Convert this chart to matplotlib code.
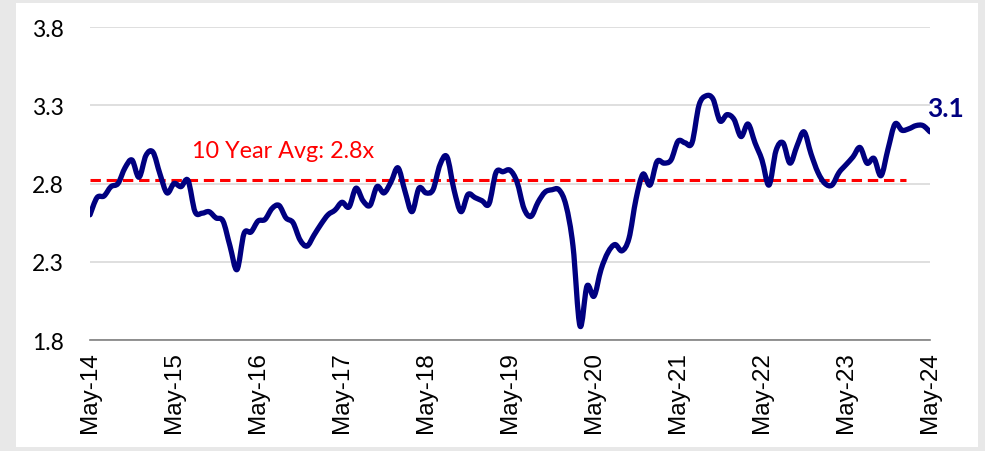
import matplotlib
matplotlib.use('Agg')
import matplotlib.pyplot as plt
from matplotlib.patches import Rectangle, PathPatch
from matplotlib.path import Path

# monthly multiple, May-14 .. May-24
values = [
    2.60, 2.71, 2.72, 2.78, 2.80, 2.90, 2.95, 2.84, 2.98, 3.00, 2.86, 2.74,
    2.80, 2.78, 2.82, 2.62, 2.61, 2.62, 2.58, 2.56, 2.40, 2.25, 2.48, 2.49,
    2.56, 2.57, 2.64, 2.66, 2.58, 2.55, 2.44, 2.40, 2.47, 2.54, 2.60, 2.63,
    2.68, 2.65, 2.77, 2.69, 2.66, 2.78, 2.74, 2.81, 2.90, 2.75, 2.62, 2.77,
    2.74, 2.76, 2.92, 2.97, 2.76, 2.62, 2.73, 2.71, 2.69, 2.67, 2.87, 2.875,
    2.885, 2.81, 2.64, 2.59, 2.68, 2.745, 2.76, 2.76, 2.66, 2.40, 1.89, 2.145,
    2.08, 2.25, 2.36, 2.41, 2.37, 2.45, 2.70, 2.86, 2.79, 2.94, 2.93, 2.95,
    3.07, 3.06, 3.06, 3.30, 3.36, 3.34, 3.20, 3.24, 3.21, 3.10, 3.18, 3.06,
    2.95, 2.79, 3.01, 3.06, 2.93, 3.04, 3.13, 2.99, 2.87, 2.80, 2.79, 2.87,
    2.92, 2.97, 3.03, 2.93, 2.96, 2.85, 3.02, 3.18, 3.14, 3.15, 3.17, 3.17,
    3.13,
]
tick_labels = ["May-14", "May-15", "May-16", "May-17", "May-18", "May-19",
               "May-20", "May-21", "May-22", "May-23", "May-24"]
y_ticks = [1.8, 2.3, 2.8, 3.3, 3.8]
avg_value = 2.82
avg_label = "10 Year Avg: 2.8x"
last_label = "3.1"

navy = "#000080"
red = "#ff0000"


def smooth_path(xs, ys, t=1 / 6):
    """Bezier path through the points, like Excel's smoothed line."""
    verts = [(xs[0], ys[0])]
    codes = [Path.MOVETO]
    n = len(xs)
    for i in range(n - 1):
        x0, y0 = xs[max(i - 1, 0)], ys[max(i - 1, 0)]
        x1, y1 = xs[i], ys[i]
        x2, y2 = xs[i + 1], ys[i + 1]
        x3, y3 = xs[min(i + 2, n - 1)], ys[min(i + 2, n - 1)]
        verts += [(x1 + (x2 - x0) * t, y1 + (y2 - y0) * t),
                  (x2 - (x3 - x1) * t, y2 - (y3 - y1) * t),
                  (x2, y2)]
        codes += [Path.CURVE4] * 3
    return Path(verts, codes)


fig = plt.figure(figsize=(9.85, 4.52), dpi=100, facecolor="#e8e8e8")
# white chart card with a grey shadow round it
card = Rectangle((16 / 985, 4 / 452), 962 / 985, 444 / 452,
                 transform=fig.transFigure, facecolor="white",
                 edgecolor="none", zorder=-10)
fig.patches.append(card)

ax = fig.add_axes([90 / 985, 111 / 452, 840 / 985, 313 / 452])
ax.set_facecolor("none")

x = list(range(len(values)))
line = PathPatch(smooth_path(x, values), facecolor="none", edgecolor=navy,
                 lw=3.8, joinstyle="round", capstyle="round", zorder=3)
ax.add_patch(line)
ax.plot([0, 116.5], [avg_value, avg_value], color=red, lw=2.2,
        dashes=(3.4, 1.9), zorder=2)

ax.text(14.5, 3.01, avg_label, color=red, fontsize=16.8, family="Lato",
        ha="left", va="center")
ax.text(122.2, 3.28, last_label, color=navy, fontsize=19, family="Lato",
        fontweight="bold", ha="center", va="center", clip_on=False)

ax.set_xlim(0, 120)
ax.set_ylim(1.8, 3.8)
ax.set_yticks(y_ticks)
ax.set_yticklabels([f"{v:.1f}" for v in y_ticks], family="Lato", fontsize=16.5)
ax.set_xticks(list(range(0, 121, 12)))
ax.set_xticklabels(tick_labels, rotation=90, family="Liberation Sans",
                   fontsize=17.5)
ax.tick_params(axis="both", length=0)
ax.tick_params(axis="y", pad=19)
ax.tick_params(axis="x", pad=8)

ax.grid(axis="y", color="#d9d9d9", lw=1.2, zorder=1)
for s in ["top", "right", "left"]:
    ax.spines[s].set_visible(False)
ax.spines["bottom"].set_color("#808080")
ax.spines["bottom"].set_linewidth(1.2)

fig.savefig("out.png", dpi=100, facecolor=fig.get_facecolor())
